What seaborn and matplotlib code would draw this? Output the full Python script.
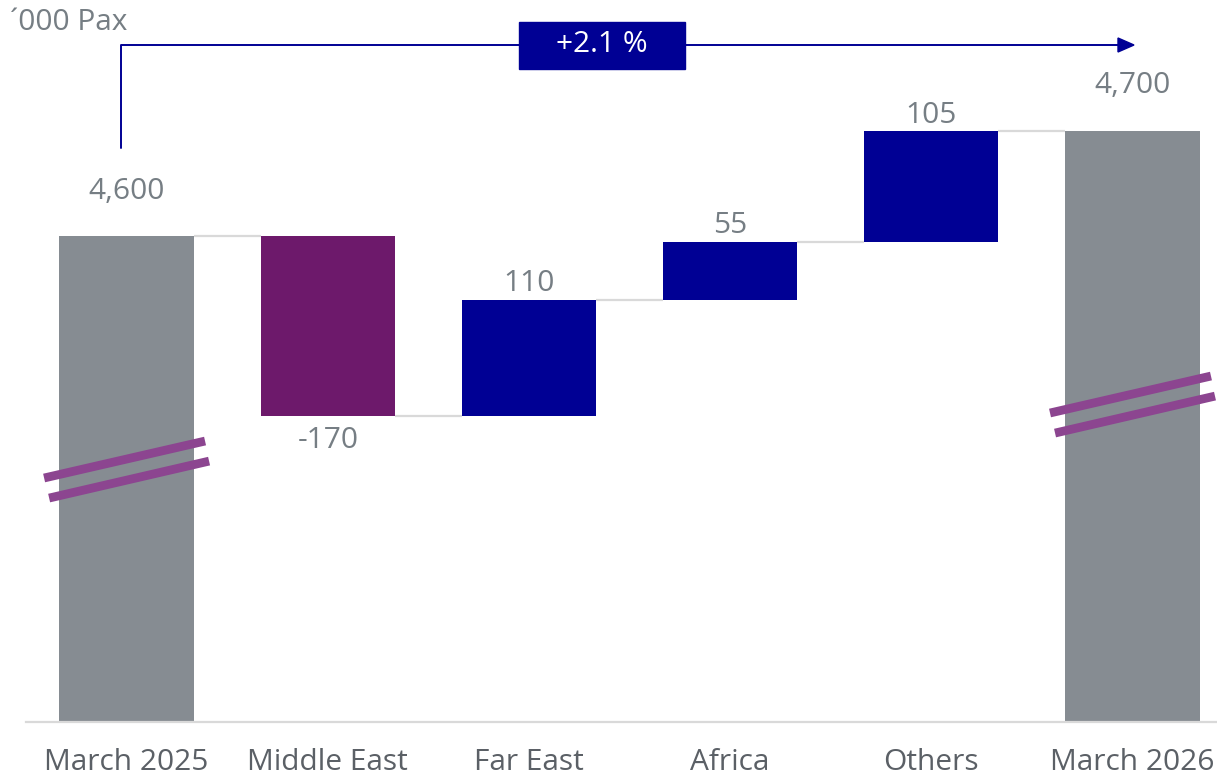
import matplotlib
matplotlib.use("Agg")
import matplotlib.pyplot as plt
import seaborn as sns
import pandas as pd
from matplotlib.patches import Rectangle, Polygon
from matplotlib.lines import Line2D

# --- DATA ---
categorias = ["March 2025", "Middle East", "Far East", "Africa", "Others", "March 2026"]
valores = [4600, -170, 110, 55, 105, 4700]
tipos = ["total", "delta", "delta", "delta", "delta", "total"]
etiquetas = ["4,600", "-170", "110", "55", "105", "4,700"]
unidad = "\u00b4000 Pax"
crecimiento = "+2.1 %"

# --- COLORES ---
GRIS = "#868C92"
MORADO = "#6D196B"
AZUL = "#000094"
CORTE = "#8C4590"
LINEA = "#D9D9D9"
TXT = "#767E84"
TXT_EJE = "#5B6066"

W, H, DPI = 1217, 775, 100
Y0 = 4140  # comienzo del eje (eje cortado)

sns.set_theme(style="white")
plt.rcParams["font.family"] = ["Open Sans", "DejaVu Sans"]

# waterfall: base y altura de cada barra
df = pd.DataFrame({"cat": categorias, "val": valores, "tipo": tipos, "lab": etiquetas})
acum = 0
bases, alturas, nivel = [], [], []
for _, r in df.iterrows():
    if r["tipo"] == "total":
        bases.append(0)
        alturas.append(r["val"])
        acum = r["val"]
    else:
        nuevo = acum + r["val"]
        bases.append(min(acum, nuevo))
        alturas.append(abs(r["val"]))
        acum = nuevo
    nivel.append(acum)
df["base"] = bases
df["alto"] = alturas
df["nivel"] = nivel

fig = plt.figure(figsize=(W / DPI, H / DPI), dpi=DPI)
ax = fig.add_axes([26 / W, 53 / H, 1191 / W, 722 / H])

for i, r in df.iterrows():
    if r["tipo"] == "total":
        color = GRIS
    elif r["val"] < 0:
        color = MORADO
    else:
        color = AZUL
    sns.barplot(x=[r["cat"]], y=[r["alto"]], order=categorias, bottom=r["base"],
                color=color, saturation=1, width=0.667, ax=ax, linewidth=0)

ax.set_xlim(-0.5, 5.42)
ax.set_ylim(Y0, Y0 + 722 / 1.0556)

# conectores entre barras
bw = 0.667
for i in range(len(df) - 1):
    y = df.loc[i, "nivel"]
    ax.plot([i + bw / 2, i + 1 - bw / 2], [y, y], color=LINEA, lw=1.6, zorder=1,
            solid_capstyle="butt")

# etiquetas de valores
for i, r in df.iterrows():
    if r["tipo"] == "total":
        y, dy = r["base"] + r["alto"], 27
    elif r["val"] < 0:
        y, dy = r["base"], -23
    else:
        y, dy = r["base"] + r["alto"], 6
    ax.annotate(r["lab"], (i, y), xytext=(0, dy), textcoords="offset points",
                ha="center", va="baseline", fontsize=21.5, color=TXT)

# marcas de corte del eje
for i in [0, 5]:
    lo = Y0 + (722 - (478 if i == 0 else 413)) / 1.0556
    for k, d in enumerate([0, -19]):
        x0, x1 = i - 0.41 + 0.025 * k, i + 0.39 + 0.02 * k
        ax.add_line(Line2D([x0, x1], [lo + d, lo + d + 35], color=CORTE, lw=6.3,
                           solid_capstyle="butt", zorder=5))

sns.despine(ax=ax, left=True)
ax.spines["bottom"].set_color(LINEA)
ax.spines["bottom"].set_linewidth(1.6)
ax.set_yticks([])
ax.set_xlabel("")
ax.set_ylabel("")
ax.tick_params(axis="x", length=0, pad=19, labelsize=21.5, labelcolor=TXT_EJE)

# unidad arriba a la izquierda
fig.text(10 / W, 1 - 23 / H, unidad, fontsize=21.5, color=TXT, va="center", ha="left")

# flecha de crecimiento
def fx(px):
    return px / W

def fy(py):
    return 1 - py / H

fig.add_artist(Line2D([fx(121), fx(121), fx(1120)], [fy(148), fy(45), fy(45)],
                      color=AZUL, lw=1.4, transform=fig.transFigure))
fig.add_artist(Polygon([[fx(1118), fy(38)], [fx(1118), fy(52)], [fx(1134), fy(45)]],
                       closed=True, color=AZUL, transform=fig.transFigure))
fig.add_artist(Rectangle((fx(519), fy(69)), fx(685) - fx(519), fy(22) - fy(69),
                         color=AZUL, transform=fig.transFigure, zorder=3))
fig.text(fx(602), fy(45), crecimiento, fontsize=21.5, color="white",
         ha="center", va="center", zorder=4)

fig.savefig("out.png", dpi=DPI)
